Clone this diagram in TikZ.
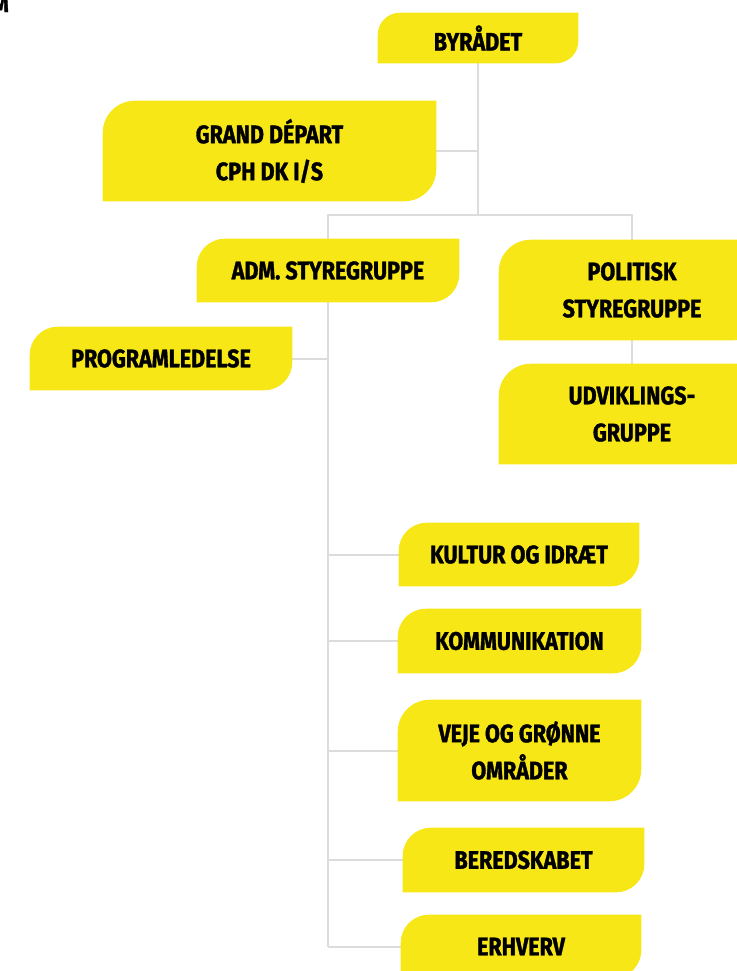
\documentclass[tikz,border=0pt]{standalone}
\usepackage{fontspec}
\setmainfont{Fira Sans}[FakeStretch=0.85, BoldFeatures={FakeBold=1.3}]
\usetikzlibrary{backgrounds}
\definecolor{leafyellow}{RGB}{247,231,23}
\definecolor{linegrey}{RGB}{220,220,220}
\tikzset{
  boxtext/.style={inner sep=0pt, align=center, text=black,
    font=\fontsize{19}{27.8}\selectfont\bfseries},
  conn/.style={draw=linegrey, line width=1.5pt},
}
% name, left, top, right, bottom, text
\newcommand\bx[6]{%
  \node[boxtext, minimum width={(#4-#2)*0.75pt}, minimum height={(#5-#3)*0.75pt}]
    (#1) at ({(#2+#4)/2},{-(#3+#5)/2}) {#6};}
% name, radius in pt
\newcommand\leaf[2]{%
  \fill[leafyellow] (#1.south west) -- ([yshift=-#2]#1.north west)
    arc[start angle=180, end angle=90, radius=#2] -- (#1.north east)
    -- ([yshift=#2]#1.south east)
    arc[start angle=0, end angle=-90, radius=#2] -- cycle;}
\begin{document}
\begin{tikzpicture}[x=0.75pt, y=0.75pt]
\useasboundingbox (0,0) rectangle (737,-971);
\node[boxtext, anchor=base east] (cut) at (9,-12) {M};
\bx{byr}{378}{13}{578}{63}{BYRÅDET}
\bx{gd}{103}{101}{436}{201}{GRAND DÉPART\\CPH DK I/S}
\bx{adm}{197}{239}{459}{302}{ADM. STYREGRUPPE}
\bx{pol}{499}{240}{765}{340}{POLITISK\\STYREGRUPPE}
\bx{udv}{499}{364}{765}{464}{UDVIKLINGS-\\GRUPPE}
\bx{prog}{30}{327}{292}{390}{PROGRAMLEDELSE}
\bx{kul}{399}{523}{639}{586}{KULTUR OG IDRÆT}
\bx{kom}{398}{609}{641}{673}{KOMMUNIKATION}
\bx{vej}{398}{700}{641}{801}{VEJE OG GRØNNE\\OMRÅDER}
\bx{ber}{403}{828}{644}{892}{BEREDSKABET}
\bx{erh}{401}{915}{641}{978}{ERHVERV}
\coordinate (j1) at (479,-215);
\begin{scope}[on background layer]
  \draw[conn] (byr.south) -- (byr.south |- j1);
  \draw[conn] (gd.east) -- (gd.east -| byr.south);
  \draw[conn] (adm.north) |- (j1) -| (pol.north);
  \draw[conn] (pol.south) -- (udv.north);
  \draw[conn] (adm.south) -- (adm.south |- erh.west);
  \draw[conn] (prog.east) -- (prog.east -| adm.south);
  \draw[conn] (kul.west) -- (kul.west -| adm.south);
  \draw[conn] (kom.west) -- (kom.west -| adm.south);
  \draw[conn] (vej.west) -- (vej.west -| adm.south);
  \draw[conn] (ber.west) -- (ber.west -| adm.south);
  \draw[conn] (erh.west) -- (erh.west -| adm.south);
  \leaf{byr}{16.5pt}
  \leaf{gd}{24pt}
  \leaf{adm}{21pt}
  \leaf{pol}{24pt}
  \leaf{udv}{24pt}
  \leaf{prog}{21pt}
  \leaf{kul}{21pt}
  \leaf{kom}{21pt}
  \leaf{vej}{24pt}
  \leaf{ber}{21pt}
  \leaf{erh}{21pt}
\end{scope}
\end{tikzpicture}
\end{document}
